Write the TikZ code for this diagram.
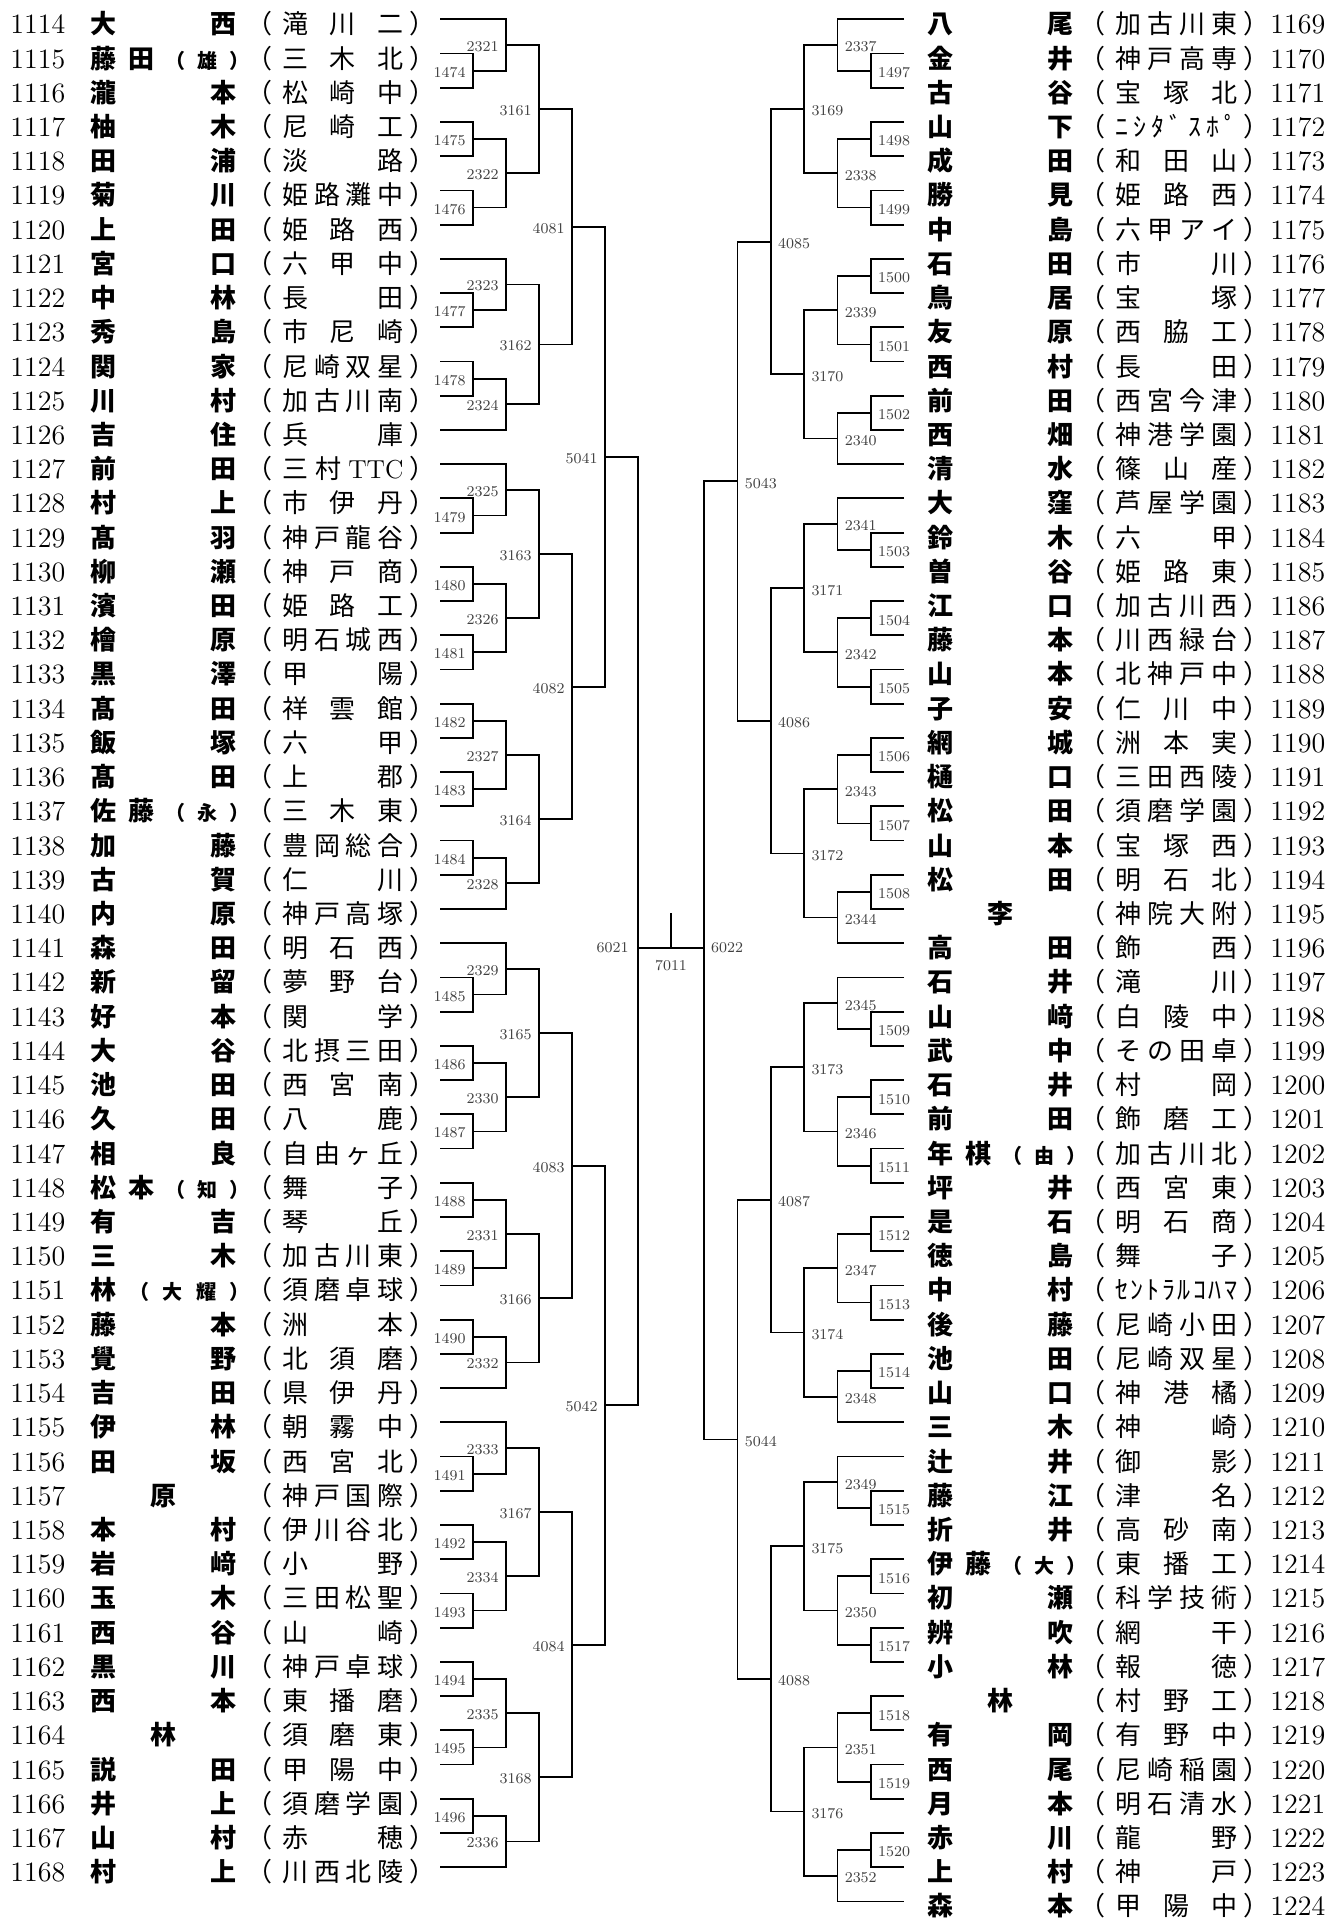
\documentclass[tikz,border=0pt]{standalone}
\usepackage{fontspec}
\usetikzlibrary{calc}
\newfontfamily\jp{Noto Sans CJK JP}

\newcommand\smallj{\fontsize{10pt}{10pt}\selectfont}
\newcommand\lpj{{\smallj （}}
\newcommand\rpj{{\smallj\makebox[3.5pt][l]{）}}}
\def\spr#1{\sprA#1\relax}
\def\sprA#1{{#1}\sprB}
\def\sprB#1{\ifx\relax#1\else\hfill{#1}\expandafter\sprB\fi}

\tikzset{
  bline/.style={line width=0.9pt},
  mlab/.style={font=\fontsize{7.5pt}{8pt}\selectfont, text=black!75, inner sep=0pt},
  numtxt/.style={font=\fontsize{14pt}{14pt}\selectfont, inner sep=0pt},
  nametxt/.style={font=\jp\bfseries\fontsize{13pt}{13pt}\selectfont, inner sep=0pt},
  schtxt/.style={font=\jp\fontsize{13pt}{13pt}\selectfont, inner sep=0pt}
}

\newcommand\rowL[4]{%
  \coordinate (e#2) at (440,{19.3+34.22*#1});
  \node[numtxt, anchor=base west] (n#2) at (10,{33.8+34.22*#1}) {#2};
  \node[nametxt, anchor=base west] (p#2) at (90,{33.8+34.22*#1}) {\makebox[73pt][s]{\spr{#3}}};
  \node[schtxt, anchor=base west] (s#2) at (282,{33.8+34.22*#1}) {\llap{（\hspace{5pt}}\makebox[60.5pt][s]{\spr{#4}}\rlap{\hspace{3pt}）}};
}
\newcommand\rowR[4]{%
  \coordinate (e#2) at (904,{19.3+34.22*#1});
  \node[nametxt, anchor=base west] (p#2) at (927,{33.8+34.22*#1}) {\makebox[73pt][s]{\spr{#3}}};
  \node[schtxt, anchor=base west] (s#2) at (1115,{33.8+34.22*#1}) {\llap{（\hspace{5pt}}\makebox[61pt][s]{\spr{#4}}\rlap{\hspace{3pt}）}};
  \node[numtxt, anchor=base west] (n#2) at (1270,{33.8+34.22*#1}) {#2};
}
\newcommand\matchL[4]{%
  \path let \p1=($(#2)!.5!(#3)$), \p2=(#4) in coordinate (m#1) at (\x2,\y1);
  \draw[bline] (#2) -| (m#1) |- (#3);
  \node[mlab, anchor=east] (t#1) at ([xshift=-3.5pt,yshift=-0.8pt]m#1) {#1};
}
\newcommand\matchR[4]{%
  \path let \p1=($(#2)!.5!(#3)$), \p2=(#4) in coordinate (m#1) at (\x2,\y1);
  \draw[bline] (#2) -| (m#1) |- (#3);
  \node[mlab, anchor=west] (t#1) at ([xshift=3.5pt,yshift=-1pt]m#1) {#1};
}

\begin{document}
\begin{tikzpicture}[x=0.5pt, y=-0.5pt]
\path[fill=white] (0,0) rectangle (1344,1919);
\useasboundingbox (0,0) rectangle (1344,1919);

\coordinate (cL1) at (473,0);
\coordinate (cL2) at (506,0);
\coordinate (cL3) at (539,0);
\coordinate (cL4) at (572,0);
\coordinate (cL5) at (605,0);
\coordinate (cR1) at (870.7,0);
\coordinate (cR2) at (837.4,0);
\coordinate (cR3) at (804.1,0);
\coordinate (cR4) at (770.8,0);
\coordinate (cR5) at (737.5,0);

\rowL{0}{1114}{大西}{滝川二}
\rowL{1}{1115}{藤田\lpj{\smallj 雄}\rpj}{三木北}
\rowL{2}{1116}{瀧本}{松崎中}
\rowL{3}{1117}{柚木}{尼崎工}
\rowL{4}{1118}{田浦}{淡路}
\rowL{5}{1119}{菊川}{姫路灘中}
\rowL{6}{1120}{上田}{姫路西}
\rowL{7}{1121}{宮口}{六甲中}
\rowL{8}{1122}{中林}{長田}
\rowL{9}{1123}{秀島}{市尼崎}
\rowL{10}{1124}{関家}{尼崎双星}
\rowL{11}{1125}{川村}{加古川南}
\rowL{12}{1126}{吉住}{兵庫}
\rowL{13}{1127}{前田}{三村{\rmfamily TTC}}
\rowL{14}{1128}{村上}{市伊丹}
\rowL{15}{1129}{髙羽}{神戸龍谷}
\rowL{16}{1130}{柳瀬}{神戸商}
\rowL{17}{1131}{濱田}{姫路工}
\rowL{18}{1132}{檜原}{明石城西}
\rowL{19}{1133}{黒澤}{甲陽}
\rowL{20}{1134}{髙田}{祥雲館}
\rowL{21}{1135}{飯塚}{六甲}
\rowL{22}{1136}{髙田}{上郡}
\rowL{23}{1137}{佐藤\lpj{\smallj 永}\rpj}{三木東}
\rowL{24}{1138}{加藤}{豊岡総合}
\rowL{25}{1139}{古賀}{仁川}
\rowL{26}{1140}{内原}{神戸高塚}
\rowL{27}{1141}{森田}{明石西}
\rowL{28}{1142}{新留}{夢野台}
\rowL{29}{1143}{好本}{関学}
\rowL{30}{1144}{大谷}{北摂三田}
\rowL{31}{1145}{池田}{西宮南}
\rowL{32}{1146}{久田}{八鹿}
\rowL{33}{1147}{相良}{自由ヶ丘}
\rowL{34}{1148}{松本\lpj{\smallj 知}\rpj}{舞子}
\rowL{35}{1149}{有吉}{琴丘}
\rowL{36}{1150}{三木}{加古川東}
\rowL{37}{1151}{林\lpj{\smallj 大}{\smallj 耀}\rpj}{須磨卓球}
\rowL{38}{1152}{藤本}{洲本}
\rowL{39}{1153}{覺野}{北須磨}
\rowL{40}{1154}{吉田}{県伊丹}
\rowL{41}{1155}{伊林}{朝霧中}
\rowL{42}{1156}{田坂}{西宮北}
\rowL{43}{1157}{{\hfill 原\hfill}}{神戸国際}
\rowL{44}{1158}{本村}{伊川谷北}
\rowL{45}{1159}{岩﨑}{小野}
\rowL{46}{1160}{玉木}{三田松聖}
\rowL{47}{1161}{西谷}{山崎}
\rowL{48}{1162}{黒川}{神戸卓球}
\rowL{49}{1163}{西本}{東播磨}
\rowL{50}{1164}{{\hfill 林\hfill}}{須磨東}
\rowL{51}{1165}{説田}{甲陽中}
\rowL{52}{1166}{井上}{須磨学園}
\rowL{53}{1167}{山村}{赤穂}
\rowL{54}{1168}{村上}{川西北陵}

\rowR{0}{1169}{八尾}{加古川東}
\rowR{1}{1170}{金井}{神戸高専}
\rowR{2}{1171}{古谷}{宝塚北}
\rowR{3}{1172}{山下}{ﾆｼﾀﾞｽﾎﾟ}
\rowR{4}{1173}{成田}{和田山}
\rowR{5}{1174}{勝見}{姫路西}
\rowR{6}{1175}{中島}{六甲アイ}
\rowR{7}{1176}{石田}{市川}
\rowR{8}{1177}{鳥居}{宝塚}
\rowR{9}{1178}{友原}{西脇工}
\rowR{10}{1179}{西村}{長田}
\rowR{11}{1180}{前田}{西宮今津}
\rowR{12}{1181}{西畑}{神港学園}
\rowR{13}{1182}{清水}{篠山産}
\rowR{14}{1183}{大窪}{芦屋学園}
\rowR{15}{1184}{鈴木}{六甲}
\rowR{16}{1185}{曽谷}{姫路東}
\rowR{17}{1186}{江口}{加古川西}
\rowR{18}{1187}{藤本}{川西緑台}
\rowR{19}{1188}{山本}{北神戸中}
\rowR{20}{1189}{子安}{仁川中}
\rowR{21}{1190}{網城}{洲本実}
\rowR{22}{1191}{樋口}{三田西陵}
\rowR{23}{1192}{松田}{須磨学園}
\rowR{24}{1193}{山本}{宝塚西}
\rowR{25}{1194}{松田}{明石北}
\rowR{26}{1195}{{\hfill 李\hfill}}{神院大附}
\rowR{27}{1196}{高田}{飾西}
\rowR{28}{1197}{石井}{滝川}
\rowR{29}{1198}{山﨑}{白陵中}
\rowR{30}{1199}{武中}{その田卓}
\rowR{31}{1200}{石井}{村岡}
\rowR{32}{1201}{前田}{飾磨工}
\rowR{33}{1202}{年棋\lpj{\smallj 由}\rpj}{加古川北}
\rowR{34}{1203}{坪井}{西宮東}
\rowR{35}{1204}{是石}{明石商}
\rowR{36}{1205}{徳島}{舞子}
\rowR{37}{1206}{中村}{ｾﾝﾄﾗﾙｺﾊﾏ}
\rowR{38}{1207}{後藤}{尼崎小田}
\rowR{39}{1208}{池田}{尼崎双星}
\rowR{40}{1209}{山口}{神港橘}
\rowR{41}{1210}{三木}{神崎}
\rowR{42}{1211}{辻井}{御影}
\rowR{43}{1212}{藤江}{津名}
\rowR{44}{1213}{折井}{高砂南}
\rowR{45}{1214}{伊藤\lpj{\smallj 大}\rpj}{東播工}
\rowR{46}{1215}{初瀬}{科学技術}
\rowR{47}{1216}{辨吹}{網干}
\rowR{48}{1217}{小林}{報徳}
\rowR{49}{1218}{{\hfill 林\hfill}}{村野工}
\rowR{50}{1219}{有岡}{有野中}
\rowR{51}{1220}{西尾}{尼崎稲園}
\rowR{52}{1221}{月本}{明石清水}
\rowR{53}{1222}{赤川}{龍野}
\rowR{54}{1223}{上村}{神戸}
\rowR{55}{1224}{森本}{甲陽中}

\matchL{1474}{e1115}{e1116}{cL1}
\matchL{2321}{e1114}{m1474}{cL2}
\matchL{1475}{e1117}{e1118}{cL1}
\matchL{1476}{e1119}{e1120}{cL1}
\matchL{2322}{m1475}{m1476}{cL2}
\matchL{3161}{m2321}{m2322}{cL3}
\matchL{1477}{e1122}{e1123}{cL1}
\matchL{2323}{e1121}{m1477}{cL2}
\matchL{1478}{e1124}{e1125}{cL1}
\matchL{2324}{m1478}{e1126}{cL2}
\matchL{3162}{m2323}{m2324}{cL3}
\matchL{4081}{m3161}{m3162}{cL4}
\matchL{1479}{e1128}{e1129}{cL1}
\matchL{2325}{e1127}{m1479}{cL2}
\matchL{1480}{e1130}{e1131}{cL1}
\matchL{1481}{e1132}{e1133}{cL1}
\matchL{2326}{m1480}{m1481}{cL2}
\matchL{3163}{m2325}{m2326}{cL3}
\matchL{1482}{e1134}{e1135}{cL1}
\matchL{1483}{e1136}{e1137}{cL1}
\matchL{2327}{m1482}{m1483}{cL2}
\matchL{1484}{e1138}{e1139}{cL1}
\matchL{2328}{m1484}{e1140}{cL2}
\matchL{3164}{m2327}{m2328}{cL3}
\matchL{4082}{m3163}{m3164}{cL4}
\matchL{5041}{m4081}{m4082}{cL5}
\matchL{1485}{e1142}{e1143}{cL1}
\matchL{2329}{e1141}{m1485}{cL2}
\matchL{1486}{e1144}{e1145}{cL1}
\matchL{1487}{e1146}{e1147}{cL1}
\matchL{2330}{m1486}{m1487}{cL2}
\matchL{3165}{m2329}{m2330}{cL3}
\matchL{1488}{e1148}{e1149}{cL1}
\matchL{1489}{e1150}{e1151}{cL1}
\matchL{2331}{m1488}{m1489}{cL2}
\matchL{1490}{e1152}{e1153}{cL1}
\matchL{2332}{m1490}{e1154}{cL2}
\matchL{3166}{m2331}{m2332}{cL3}
\matchL{4083}{m3165}{m3166}{cL4}
\matchL{1491}{e1156}{e1157}{cL1}
\matchL{2333}{e1155}{m1491}{cL2}
\matchL{1492}{e1158}{e1159}{cL1}
\matchL{1493}{e1160}{e1161}{cL1}
\matchL{2334}{m1492}{m1493}{cL2}
\matchL{3167}{m2333}{m2334}{cL3}
\matchL{1494}{e1162}{e1163}{cL1}
\matchL{1495}{e1164}{e1165}{cL1}
\matchL{2335}{m1494}{m1495}{cL2}
\matchL{1496}{e1166}{e1167}{cL1}
\matchL{2336}{m1496}{e1168}{cL2}
\matchL{3168}{m2335}{m2336}{cL3}
\matchL{4084}{m3167}{m3168}{cL4}
\matchL{5042}{m4083}{m4084}{cL5}

\matchR{1497}{e1170}{e1171}{cR1}
\matchR{2337}{e1169}{m1497}{cR2}
\matchR{1498}{e1172}{e1173}{cR1}
\matchR{1499}{e1174}{e1175}{cR1}
\matchR{2338}{m1498}{m1499}{cR2}
\matchR{3169}{m2337}{m2338}{cR3}
\matchR{1500}{e1176}{e1177}{cR1}
\matchR{1501}{e1178}{e1179}{cR1}
\matchR{2339}{m1500}{m1501}{cR2}
\matchR{1502}{e1180}{e1181}{cR1}
\matchR{2340}{m1502}{e1182}{cR2}
\matchR{3170}{m2339}{m2340}{cR3}
\matchR{4085}{m3169}{m3170}{cR4}
\matchR{1503}{e1184}{e1185}{cR1}
\matchR{2341}{e1183}{m1503}{cR2}
\matchR{1504}{e1186}{e1187}{cR1}
\matchR{1505}{e1188}{e1189}{cR1}
\matchR{2342}{m1504}{m1505}{cR2}
\matchR{3171}{m2341}{m2342}{cR3}
\matchR{1506}{e1190}{e1191}{cR1}
\matchR{1507}{e1192}{e1193}{cR1}
\matchR{2343}{m1506}{m1507}{cR2}
\matchR{1508}{e1194}{e1195}{cR1}
\matchR{2344}{m1508}{e1196}{cR2}
\matchR{3172}{m2343}{m2344}{cR3}
\matchR{4086}{m3171}{m3172}{cR4}
\matchR{5043}{m4085}{m4086}{cR5}
\matchR{1509}{e1198}{e1199}{cR1}
\matchR{2345}{e1197}{m1509}{cR2}
\matchR{1510}{e1200}{e1201}{cR1}
\matchR{1511}{e1202}{e1203}{cR1}
\matchR{2346}{m1510}{m1511}{cR2}
\matchR{3173}{m2345}{m2346}{cR3}
\matchR{1512}{e1204}{e1205}{cR1}
\matchR{1513}{e1206}{e1207}{cR1}
\matchR{2347}{m1512}{m1513}{cR2}
\matchR{1514}{e1208}{e1209}{cR1}
\matchR{2348}{m1514}{e1210}{cR2}
\matchR{3174}{m2347}{m2348}{cR3}
\matchR{4087}{m3173}{m3174}{cR4}
\matchR{1515}{e1212}{e1213}{cR1}
\matchR{2349}{e1211}{m1515}{cR2}
\matchR{1516}{e1214}{e1215}{cR1}
\matchR{1517}{e1216}{e1217}{cR1}
\matchR{2350}{m1516}{m1517}{cR2}
\matchR{3175}{m2349}{m2350}{cR3}
\matchR{1518}{e1218}{e1219}{cR1}
\matchR{1519}{e1220}{e1221}{cR1}
\matchR{2351}{m1518}{m1519}{cR2}
\matchR{1520}{e1222}{e1223}{cR1}
\matchR{2352}{m1520}{e1224}{cR2}
\matchR{3176}{m2351}{m2352}{cR3}
\matchR{4088}{m3175}{m3176}{cR4}
\matchR{5044}{m4087}{m4088}{cR5}

\coordinate (m6021) at (638,948);
\coordinate (m6022) at (704,948);
\coordinate (m7011) at (671,948);
\coordinate (top) at (671,913);
\draw[bline] (m5041) -| (m6021) |- (m5042);
\draw[bline] (m5043) -| (m6022) |- (m5044);
\draw[bline] (m6021) -- (m6022);
\draw[bline] (m7011) -- (top);
\node[mlab, anchor=east] (t6021) at ([xshift=-4.5pt]m6021) {6021};
\node[mlab, anchor=west] (t6022) at ([xshift=3.4pt]m6022) {6022};
\node[mlab, anchor=north] (t7011) at ([yshift=-6pt]m7011) {7011};
\end{tikzpicture}
\end{document}
